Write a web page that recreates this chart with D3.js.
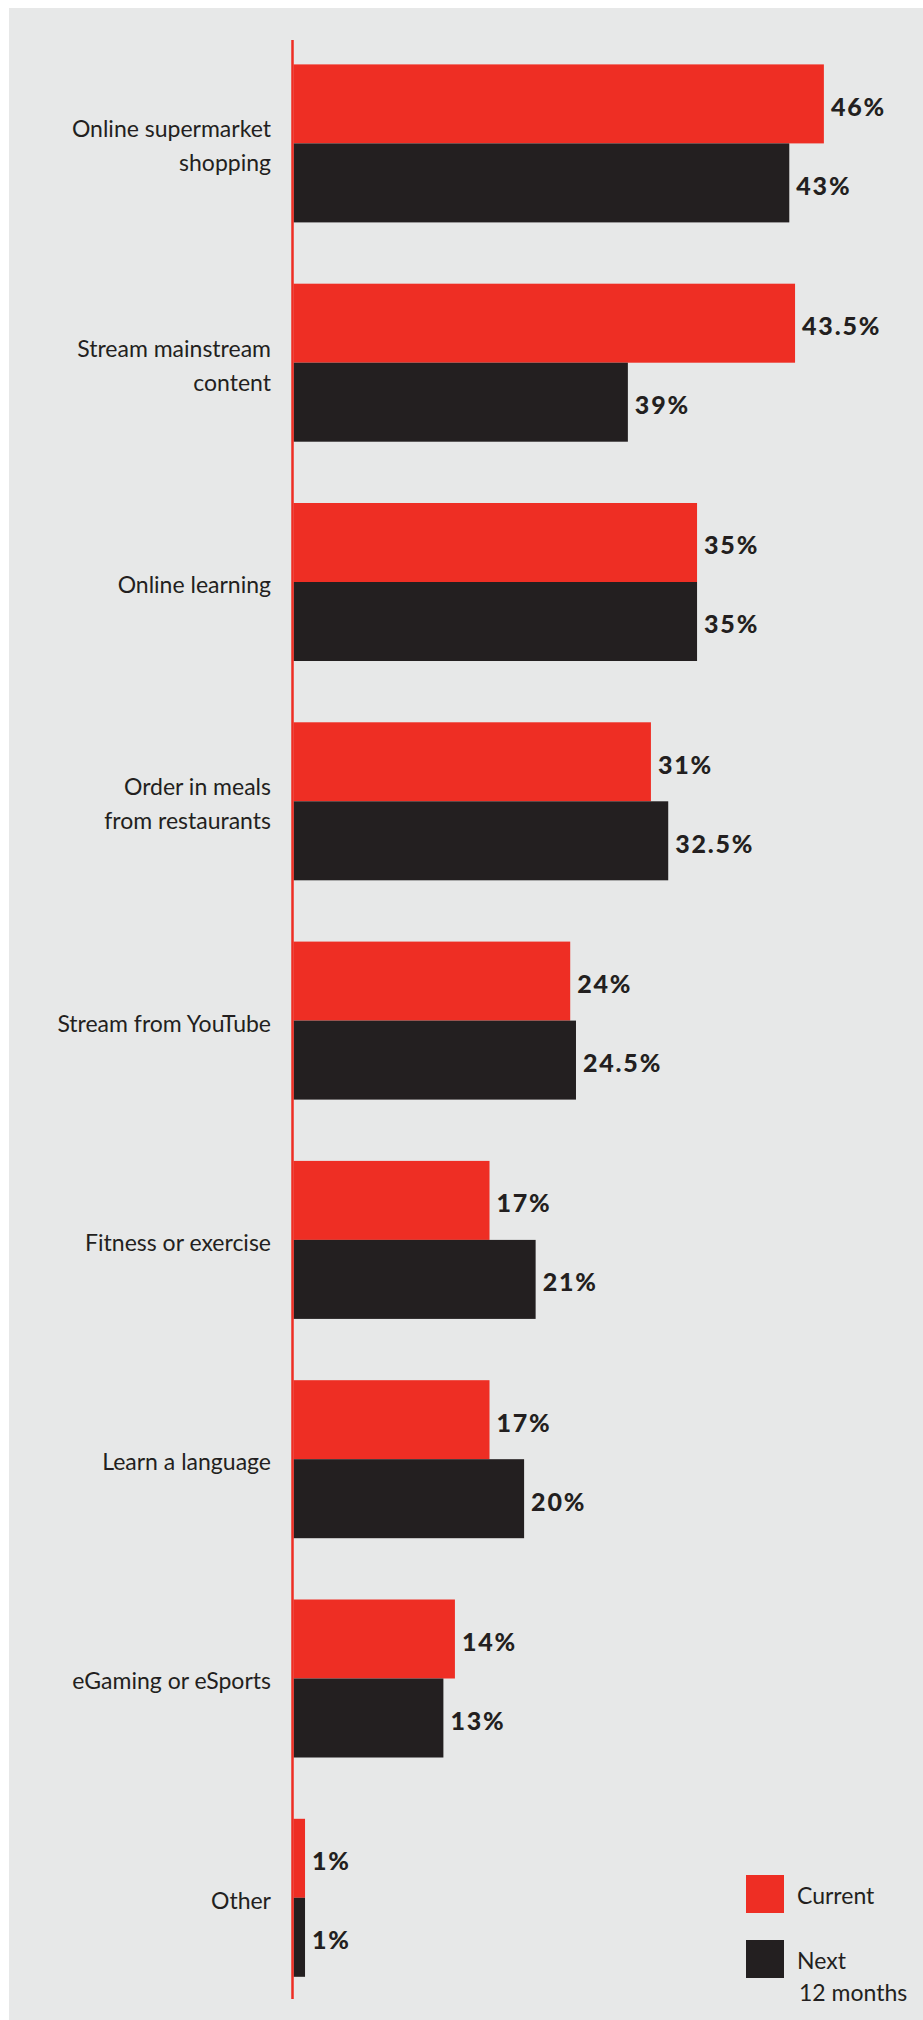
<!DOCTYPE html>
<html>
<head>
<meta charset="utf-8">
<script src="https://cdn.jsdelivr.net/npm/d3@7/dist/d3.min.js"></script>
<style>
  html, body { margin: 0; padding: 0; background: #ffffff; }
  svg { display: block; }
</style>
</head>
<body>
<svg id="chart" width="923" height="2020"></svg>
<script>
const categories = [
  "Online supermarket shopping",
  "Stream mainstream content",
  "Online learning",
  "Order in meals from restaurants",
  "Stream from YouTube",
  "Fitness or exercise",
  "Learn a language",
  "eGaming or eSports",
  "Other"
];
const labelLines = [
  ["Online supermarket", "shopping"],
  ["Stream mainstream", "content"],
  ["Online learning"],
  ["Order in meals", "from restaurants"],
  ["Stream from YouTube"],
  ["Fitness or exercise"],
  ["Learn a language"],
  ["eGaming or eSports"],
  ["Other"]
];
const series = ["Current", "Next 12 months"];
// bar lengths as drawn in the reference (the "39%" bar is drawn at ~29 in the original)
const currentValues = [46, 43.5, 35, 31, 24, 17, 17, 14, 1];
const nextValues = [43, 29, 35, 32.5, 24.5, 21, 20, 13, 1];
const valueLabelsCurrent = ["46%", "43.5%", "35%", "31%", "24%", "17%", "17%", "14%", "1%"];
const valueLabelsNext = ["43%", "39%", "35%", "32.5%", "24.5%", "21%", "20%", "13%", "1%"];
const legendLines = [["Current"], ["Next", "12 months"]];

const RED = "#ee2e24", BLACK = "#231f20", BG = "#e7e8e8";

const svg = d3.select("#chart");
svg.append("rect").attr("x", 9).attr("y", 8).attr("width", 914).attr("height", 2012).attr("fill", BG);

const y = d3.scaleBand().domain(categories).range([33.75, 2007.45]).paddingInner(0.2795).paddingOuter(0.2795 / 2);
const ySub = d3.scaleBand().domain(series).range([0, y.bandwidth()]);
const x = d3.scaleLinear().domain([0, 50]).range([293.5, 293.5 + 50 * 11.53]);
const color = d3.scaleOrdinal().domain(series).range([RED, BLACK]);

const rows = categories.map((c, i) => ({
  cat: c, lines: labelLines[i],
  vals: [
    { s: series[0], v: currentValues[i], lab: valueLabelsCurrent[i] },
    { s: series[1], v: nextValues[i], lab: valueLabelsNext[i] }
  ]
}));

const g = svg.append("g");
const grp = g.selectAll("g.grp").data(rows).join("g").attr("class", "grp")
  .attr("transform", d => `translate(0,${y(d.cat)})`);

grp.selectAll("rect").data(d => d.vals).join("rect")
  .attr("x", x(0))
  .attr("y", d => ySub(d.s))
  .attr("width", d => x(d.v) - x(0))
  .attr("height", ySub.bandwidth())
  .attr("fill", d => color(d.s));

grp.selectAll("text.val").data(d => d.vals).join("text").attr("class", "val")
  .attr("x", d => x(d.v) + 7)
  .attr("y", d => ySub(d.s) + ySub.bandwidth() / 2 + 2)
  .attr("dominant-baseline", "central")
  .attr("font-family", "Lato, sans-serif")
  .attr("font-weight", 900)
  .attr("font-size", 25)
  .attr("letter-spacing", 1.8)
  .attr("fill", BLACK)
  .text(d => d.lab);

// category labels
const lineH = 34;
grp.append("text")
  .attr("text-anchor", "end")
  .attr("font-family", "Lato, sans-serif")
  .attr("font-weight", 400)
  .attr("font-size", 23)
  .attr("fill", BLACK)
  .each(function(d) {
    const t = d3.select(this);
    const n = d.lines.length;
    d.lines.forEach((ln, k) => {
      t.append("tspan")
        .attr("x", 271)
        .attr("y", y.bandwidth() / 2 + 2 + (k - (n - 1) / 2) * lineH)
        .attr("dominant-baseline", "central")
        .text(ln);
    });
  });

// axis line
svg.append("line")
  .attr("x1", 292.5).attr("x2", 292.5)
  .attr("y1", 40).attr("y2", 1999)
  .attr("stroke", RED).attr("stroke-width", 2.5);

// legend
const legY = d3.scaleOrdinal().domain(series).range([1875, 1940]);
const leg = svg.append("g").selectAll("g").data(series).join("g")
  .attr("transform", d => `translate(746,${legY(d)})`);
leg.append("rect").attr("width", 38).attr("height", 38).attr("fill", d => color(d));
leg.append("text")
  .attr("font-family", "Lato, sans-serif")
  .attr("font-size", 23)
  .attr("fill", BLACK)
  .each(function(d, i) {
    const t = d3.select(this);
    legendLines[i].forEach((ln, k) => {
      t.append("tspan").attr("x", 51 + (k > 0 ? 2 : 0)).attr("y", 29 + k * 32).text(ln);
    });
  });
</script>
</body>
</html>
